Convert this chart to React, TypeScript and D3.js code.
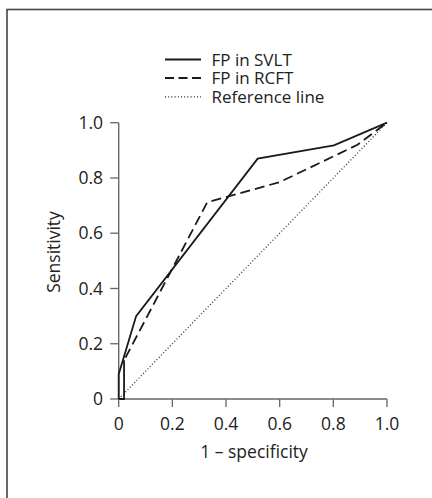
import React from "react";
import * as d3 from "d3";

const svltX = [0, 0, 0.065, 0.518, 0.802, 1];
const svltY = [0, 0.09, 0.3, 0.87, 0.918, 1];
const rcftX = [0, 0.02, 0.02, 0.33, 0.6, 0.89, 1];
const rcftY = [0, 0, 0.14, 0.712, 0.785, 0.92, 1];
const refX = [0, 1];
const refY = [0, 1];
const xTicks = [0, 0.2, 0.4, 0.6, 0.8, 1.0];
const yTicks = [0, 0.2, 0.4, 0.6, 0.8, 1.0];
const legendLabels = ["FP in SVLT", "FP in RCFT", "Reference line"];

const W = 432;
const H = 498;
const FONT = "'Open Sans', 'Noto Sans', sans-serif";
const FS = 17.5;
const LFS = 17;
const TXT = "#222";
const AX = "#666";

export default function App() {
  const x = d3.scaleLinear().domain([0, 1]).range([118.7, 387]);
  const y = d3.scaleLinear().domain([0, 1]).range([399, 122.7]);
  const line = d3
    .line<[number, number]>()
    .x((d) => x(d[0]))
    .y((d) => y(d[1]));
  const pts = (xs: number[], ys: number[]) =>
    xs.map((v, i) => [v, ys[i]] as [number, number]);
  const svlt = pts(svltX, svltY);
  const rcft = pts(rcftX, rcftY);
  const ref = pts(refX, refY);
  const fmt = (v: number) => (v === 0 ? "0" : v.toFixed(1));
  const legendY = [59.5, 78, 96.8];
  const styles = [
    { dash: undefined as string | undefined, w: 1.8 },
    { dash: "9,4.5", w: 1.8 },
    { dash: "1,2.2", w: 1.3 },
  ];
  return (
    <svg
      width={W}
      height={H}
      style={{ position: "absolute", left: 0, top: 0, background: "#fff" }}
      fontFamily={FONT}
    >
      <rect x={7} y={9.5} width={460} height={520} fill="none" stroke="#444" strokeWidth={1.6} />
      {/* axes */}
      <line x1={x(0)} x2={x(1)} y1={y(0)} y2={y(0)} stroke={AX} strokeWidth={1.4} />
      <line x1={x(0)} x2={x(0)} y1={y(0)} y2={y(1)} stroke={AX} strokeWidth={1.4} />
      {xTicks.map((t) => (
        <g key={"x" + t}>
          <line x1={x(t)} x2={x(t)} y1={y(0)} y2={y(0) + 8} stroke={AX} strokeWidth={1.3} />
          <text x={x(t)} y={429.5} textAnchor="middle" fontSize={FS} fill={TXT}>
            {fmt(t)}
          </text>
        </g>
      ))}
      {yTicks.map((t) => (
        <g key={"y" + t}>
          <line x1={x(0) - 8.5} x2={x(0)} y1={y(t)} y2={y(t)} stroke={AX} strokeWidth={1.3} />
          <text x={103} y={y(t) + 6.2} textAnchor="end" fontSize={FS} fill={TXT}>
            {fmt(t)}
          </text>
        </g>
      ))}
      <text x={254} y={458} textAnchor="middle" fontSize={FS} fill={TXT}>
        1 – specificity
      </text>
      <text
        transform={`translate(59.5, 252) rotate(-90)`}
        textAnchor="middle"
        fontSize={FS}
        fill={TXT}
      >
        Sensitivity
      </text>
      {/* curves */}
      <path d={line(ref) || ""} fill="none" stroke="#333" strokeWidth={1.3} strokeDasharray="1,2.2" />
      <path d={line(rcft.slice(0, 3)) || ""} fill="none" stroke="#1a1a1a" strokeWidth={1.8} />
      <path d={line(rcft.slice(2)) || ""} fill="none" stroke="#1a1a1a" strokeWidth={1.8} strokeDasharray="10,5" strokeDashoffset={-3} />
      <path d={line(svlt) || ""} fill="none" stroke="#1a1a1a" strokeWidth={1.8} />
      {/* legend */}
      {legendLabels.map((lab, i) => (
        <g key={lab}>
          <line
            x1={165}
            x2={201}
            y1={legendY[i]}
            y2={legendY[i]}
            stroke="#1a1a1a"
            strokeWidth={styles[i].w}
            strokeDasharray={styles[i].dash}
          />
          <text x={211.5} y={legendY[i] + 6} fontSize={LFS} fill={TXT}>
            {lab}
          </text>
        </g>
      ))}
    </svg>
  );
}
